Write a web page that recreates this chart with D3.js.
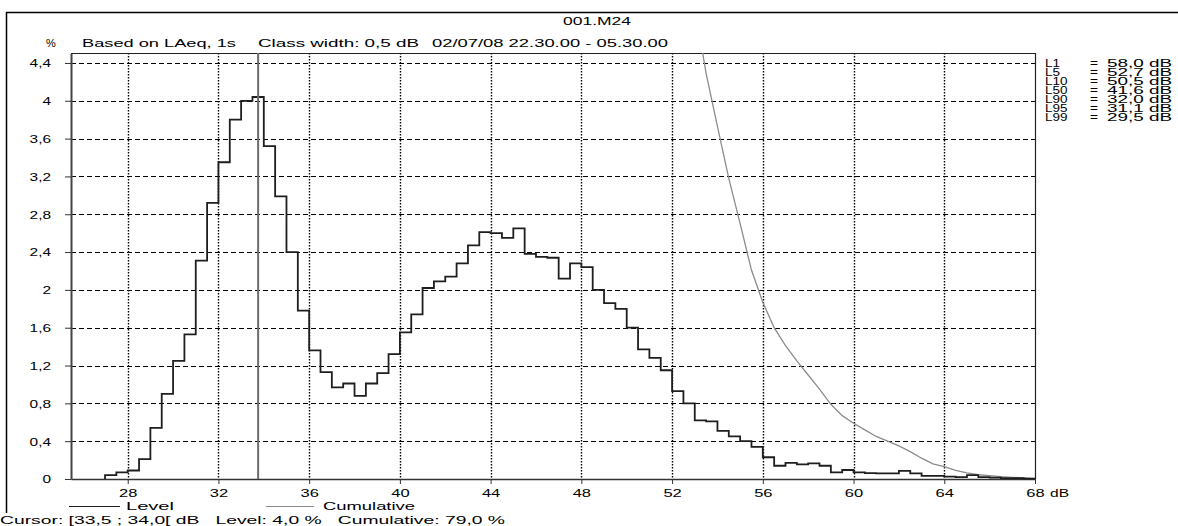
<!DOCTYPE html>

<head>
<meta charset="utf-8">
<title>001.M24 level distribution</title>
<script type="text/javascript" src="https://d3js.org/d3.v7.min.js"></script>
<style>
body { margin: 0; background: #fff; }
svg { display: block; font-family: "Liberation Sans", Arial, sans-serif; }
</style>
</head>

<body>
<div id="container"></div>
<script>
//-----------------------------DATA-----------------------------//
// class start (dB) and share of time (%) per 0,5 dB class
const levelDb = [
  27.0, 27.5, 28.0, 28.5, 29.0, 29.5, 30.0, 30.5, 31.0, 31.5,
  32.0, 32.5, 33.0, 33.5, 34.0, 34.5, 35.0, 35.5, 36.0, 36.5,
  37.0, 37.5, 38.0, 38.5, 39.0, 39.5, 40.0, 40.5, 41.0, 41.5,
  42.0, 42.5, 43.0, 43.5, 44.0, 44.5, 45.0, 45.5, 46.0, 46.5,
  47.0, 47.5, 48.0, 48.5, 49.0, 49.5, 50.0, 50.5, 51.0, 51.5,
  52.0, 52.5, 53.0, 53.5, 54.0, 54.5, 55.0, 55.5, 56.0, 56.5,
  57.0, 57.5, 58.0, 58.5, 59.0, 59.5, 60.0, 60.5, 61.0, 61.5,
  62.0, 62.5, 63.0, 63.5, 64.0, 64.5, 65.0, 65.5, 66.0, 66.5,
  67.0, 67.5
];
const levelPct = [
  0.04, 0.07, 0.09, 0.21, 0.54, 0.90, 1.25, 1.53, 2.31, 2.92,
  3.35, 3.80, 4.00, 4.04, 3.52, 2.99, 2.40, 1.78, 1.36, 1.13,
  0.97, 1.01, 0.88, 1.01, 1.12, 1.32, 1.55, 1.74, 2.02, 2.09,
  2.14, 2.28, 2.47, 2.61, 2.60, 2.55, 2.65, 2.38, 2.35, 2.34,
  2.12, 2.28, 2.24, 2.00, 1.86, 1.80, 1.60, 1.37, 1.28, 1.15,
  0.93, 0.80, 0.62, 0.61, 0.51, 0.45, 0.40, 0.34, 0.23, 0.14,
  0.17, 0.155, 0.165, 0.14, 0.07, 0.095, 0.07, 0.063, 0.06, 0.06,
  0.085, 0.06, 0.032, 0.032, 0.025, 0.02, 0.04, 0.02, 0.015, 0.01,
  0.01, 0.005
];
const classWidth = 0.5;

// cumulative curve (only the part below 4,5 % is visible)
const cumDb = [
  53.0, 53.5, 54.0, 54.5, 55.0, 55.5, 56.0, 56.5, 57.0, 57.5,
  58.0, 58.5, 59.0, 59.5, 60.0, 60.5, 61.0, 61.5, 62.0, 62.5,
  63.0, 63.5, 64.0, 64.5, 65.0, 65.5, 66.0, 66.5, 67.0, 67.5, 68.0
];
const cumPct = [
  5.0, 4.29, 3.73, 3.18, 2.70, 2.21, 1.87, 1.60, 1.41, 1.25,
  1.10, 0.95, 0.79, 0.67, 0.59, 0.52, 0.45, 0.40, 0.35, 0.29,
  0.22, 0.16, 0.13, 0.09, 0.065, 0.045, 0.035, 0.025, 0.018, 0.012, 0.005
];

const cursorDb = 33.75;

const xTicks = [28, 32, 36, 40, 44, 48, 52, 56, 60, 64, 68];
const yTicks = [0, 0.4, 0.8, 1.2, 1.6, 2, 2.4, 2.8, 3.2, 3.6, 4, 4.4];

const statNames = ["L1", "L5", "L10", "L50", "L90", "L95", "L99"];
const statValues = ["58,0 dB", "52,7 dB", "50,5 dB", "41,6 dB", "32,0 dB", "31,1 dB", "29,5 dB"];

//-----------------------------SVG------------------------------//
const width = 1178;
const height = 526;
const svg = d3.select("div#container").append("svg")
    .attr("width", width)
    .attr("height", height);

const plot = {left: 71, right: 1035, top: 53, bottom: 479};

const x = d3.scaleLinear().domain([25.5, 68]).range([plot.left, plot.right]);
const y = d3.scaleLinear().domain([0, 4.5]).range([plot.bottom, plot.top + 0.5]);

// helper for the wide bitmap-looking text
function label(str, px, py, opt) {
  opt = opt || {};
  const t = svg.append("text")
      .attr("x", px)
      .attr("y", py)
      .attr("font-size", opt.size || 11)
      .attr("text-anchor", opt.anchor || "start")
      .attr("fill", "#000")
      .attr("xml:space", "preserve")
      .style("white-space", "pre")
      .text(str);
  if (opt.len) {
    t.attr("textLength", opt.len).attr("lengthAdjust", "spacingAndGlyphs");
  }
  return t;
}

//---------------------------FRAMES-----------------------------//
svg.append("line")
    .attr("x1", 6).attr("x2", width)
    .attr("y1", 12.5).attr("y2", 12.5)
    .attr("stroke", "#000").attr("stroke-width", 1.5);
svg.append("line")
    .attr("x1", 6.5).attr("x2", 6.5)
    .attr("y1", 12).attr("y2", 513)
    .attr("stroke", "#000").attr("stroke-width", 1.5);

svg.append("clipPath").attr("id", "plotclip")
  .append("rect")
    .attr("x", plot.left).attr("y", plot.top)
    .attr("width", plot.right - plot.left)
    .attr("height", plot.bottom - plot.top);

//-----------------------------GRID-----------------------------//
svg.append("g")
  .selectAll("line")
  .data(yTicks.filter(d => d > 0))
  .join("line")
    .attr("x1", plot.left).attr("x2", plot.right)
    .attr("y1", d => Math.round(y(d)) + 0.5)
    .attr("y2", d => Math.round(y(d)) + 0.5)
    .attr("stroke", "#000")
    .attr("stroke-width", 1)
    .attr("stroke-dasharray", "5,3");

svg.append("g")
  .selectAll("line")
  .data(xTicks.filter(d => d < 68))
  .join("line")
    .attr("x1", d => Math.round(x(d)) + 0.5)
    .attr("x2", d => Math.round(x(d)) + 0.5)
    .attr("y1", plot.top).attr("y2", plot.bottom)
    .attr("stroke", "#000")
    .attr("stroke-width", 1.4)
    .attr("stroke-dasharray", "1.5,1.5");

// top and right frame of the plot
svg.append("path")
    .attr("d", "M" + plot.left + "," + (plot.top + 0.5) + "H" + (plot.right + 0.5) + "V" + plot.bottom)
    .attr("fill", "none")
    .attr("stroke", "#222")
    .attr("stroke-width", 1.2);

//-----------------------------AXES-----------------------------//
const yAxis = svg.append("g")
    .attr("transform", "translate(" + plot.left + ",0)")
    .call(d3.axisLeft(y).tickValues(yTicks).tickSize(6).tickSizeOuter(0)
      .tickFormat(d => d3.format(".1~f")(d).replace(".", ",")));
yAxis.select(".domain").attr("stroke", "#444").attr("stroke-width", 2);
yAxis.selectAll(".tick line").attr("stroke", "#333");
yAxis.selectAll(".tick text")
    .attr("x", 0)
    .attr("dy", "0.35em")
    .attr("font-size", 11)
    .attr("font-family", "Liberation Sans, Arial, sans-serif")
    .attr("fill", "#000")
    .attr("transform", "translate(-20,0) scale(1.4,1)");

const xAxis = svg.append("g")
    .attr("transform", "translate(0," + plot.bottom + ")")
    .call(d3.axisBottom(x).tickValues(xTicks).tickSize(5).tickSizeOuter(0));
xAxis.select(".domain").attr("stroke", "#333").attr("stroke-width", 1.5);
xAxis.selectAll(".tick line").attr("stroke", "#333");
xAxis.selectAll(".tick text")
    .attr("y", 18)
    .attr("dy", 0)
    .attr("font-size", 11)
    .attr("font-family", "Liberation Sans, Arial, sans-serif")
    .attr("fill", "#000")
    .attr("transform", "scale(1.5,1)");

//----------------------------LINES-----------------------------//
const histPoints = [[levelDb[0], 0]]
    .concat(levelDb.map((d, i) => [d, levelPct[i]]))
    .concat([[levelDb[levelDb.length - 1] + classWidth, levelPct[levelPct.length - 1]],
             [levelDb[levelDb.length - 1] + classWidth, 0]]);

const stepLine = d3.line()
    .x(d => x(d[0]))
    .y(d => y(d[1]))
    .curve(d3.curveStepAfter);

const cumLine = d3.line()
    .x((d, i) => x(d))
    .y((d, i) => y(cumPct[i]));

svg.append("path")
    .attr("clip-path", "url(#plotclip)")
    .attr("d", cumLine(cumDb))
    .attr("fill", "none")
    .attr("stroke", "#8c8c8c")
    .attr("stroke-width", 1.3);

svg.append("path")
    .attr("d", stepLine(histPoints))
    .attr("fill", "none")
    .attr("stroke", "#1e1e1e")
    .attr("stroke-width", 1.8);

// cursor
svg.append("line")
    .attr("x1", x(cursorDb)).attr("x2", x(cursorDb))
    .attr("y1", plot.top).attr("y2", plot.bottom)
    .attr("stroke", "#6c6c6c")
    .attr("stroke-width", 2);

//-----------------------------TEXT-----------------------------//
label("001.M24", 597, 25, {anchor: "middle", len: 68});
label("%", 51, 47, {anchor: "middle"});
label("Based on LAeq, 1s", 82, 47, {len: 154});
label("Class width: 0,5 dB", 258, 47, {len: 161});
label("02/07/08 22.30.00 - 05.30.00", 432, 47, {len: 236});

statNames.forEach((n, i) => {
  label(n, 1045, 66.5 + i * 9, {size: 10, len: n.length * 7.5});
  label("=", 1090, 66.5 + i * 9, {size: 10, len: 8});
  label(statValues[i], 1107, 66.5 + i * 9, {size: 10, len: 65});
});

label("dB", 1050, 497, {len: 19});

// legend
svg.append("line")
    .attr("x1", 69).attr("x2", 120).attr("y1", 506.5).attr("y2", 506.5)
    .attr("stroke", "#1e1e1e").attr("stroke-width", 1.2);
label("Level", 126, 510, {len: 48});
svg.append("line")
    .attr("x1", 266).attr("x2", 314).attr("y1", 506.5).attr("y2", 506.5)
    .attr("stroke", "#8c8c8c").attr("stroke-width", 1.2);
label("Cumulative", 323, 510, {len: 92});

label("Cursor: [33,5 ; 34,0[ dB   Level: 4,0 %   Cumulative: 79,0 %", 0, 524, {len: 505});
</script>
</body>
